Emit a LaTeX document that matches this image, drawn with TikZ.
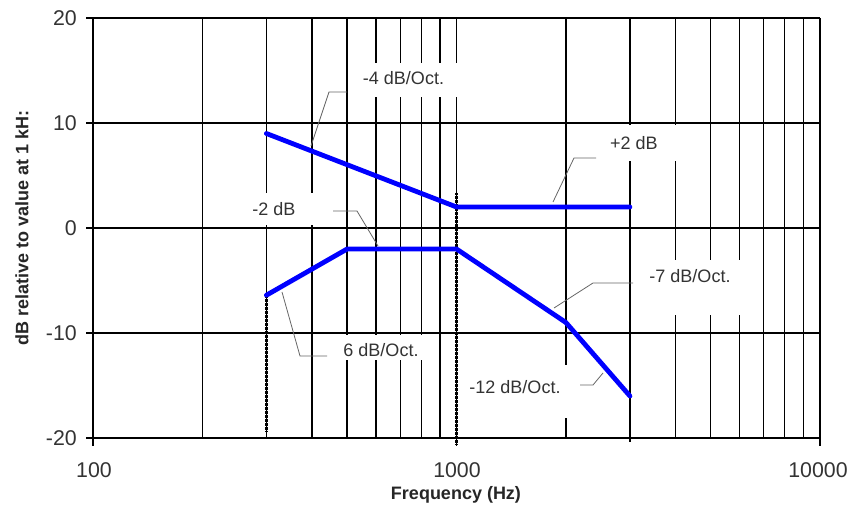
\documentclass[tikz,border=0pt]{standalone}
\usepackage{fontspec}
\setmainfont{Liberation Sans}
\definecolor{txt}{HTML}{333333}
\definecolor{curveblue}{RGB}{0,0,255}
\begin{document}
\begin{tikzpicture}[x=0.75pt,y=-0.75pt,
  grid/.style={line width=1pt,black},
  curve/.style={line width=3.6pt,curveblue,line cap=round,line join=round},
  leader/.style={line width=0.6pt,black!60},
  tol/.style={line width=1.8pt,black,dash pattern=on 0.5pt off 0.5pt},
  mask/.style={fill=white,draw=none},
  lab/.style={inner sep=0pt,text=txt,font=\fontsize{13.5}{16}\selectfont},
  ticklab/.style={inner sep=0pt,text=txt,font=\fontsize{16}{19}\selectfont},
  axlab/.style={inner sep=0pt,text=black!85,font=\bfseries\fontsize{13.5}{16}\selectfont}]
\useasboundingbox (0,0) rectangle (854,513);
% grid
\foreach \x in {93,202.4,266.4,311.9,347.1,375.9,400.2,421.3,439.9,456.5,565.9,629.9,675.4,710.6,739.4,763.7,784.8,803.4,820}
  \draw[grid] (\x,18) -- (\x,438);
\foreach \y in {18,123,228,333,438}
  \draw[grid] (86,\y) -- (820,\y);
\foreach \x in {93,456.5,820}
  \draw[grid] (\x,438) -- (\x,446);
% masks behind labels
\fill[mask] (350,63) rectangle (462,97);
\fill[mask] (238,193) rectangle (328,225);
\fill[mask] (600,125) rectangle (692,161);
\fill[mask] (636,260) rectangle (752,315);
\fill[mask] (330,335) rectangle (432,360);
\fill[mask] (462,365) rectangle (576,418);
% labels
\node[lab] (l4) at (403.5,78) {-4 dB/Oct.};
\node[lab] (l2m) at (274,209) {-2 dB};
\node[lab] (l2p) at (634,143) {+2 dB};
\node[lab] (l7) at (690,276) {-7 dB/Oct.};
\node[lab] (l6) at (381,350) {6 dB/Oct.};
\node[lab] (l12) at (515,387) {-12 dB/Oct.};
% tolerance lines
\coordinate (t1a) at (266.4,296); \coordinate (t1b) at (266.4,432);
\coordinate (t2a) at (456.5,193); \coordinate (t2b) at (456.5,445);
\coordinate (t3a) at (629.9,320); \coordinate (t3b) at (629.9,442);
\draw[tol] (t1a) -- (t1b);
\draw[tol] (t2a) -- (t2b);
\draw[tol] (t3a) -- (t3b);
% leader lines
\coordinate (a4) at (311,146); \coordinate (b4) at (329,92); \coordinate (c4) at (347,92);
\draw[leader] (a4) -- (b4) -- (c4);
\coordinate (a2m) at (333,211); \coordinate (b2m) at (357,211); \coordinate (c2m) at (378,246);
\draw[leader] (a2m) -- (b2m) -- (c2m);
\coordinate (a2p) at (553,202); \coordinate (b2p) at (574,158); \coordinate (c2p) at (596,158);
\draw[leader] (a2p) -- (b2p) -- (c2p);
\coordinate (a7) at (554,308); \coordinate (b7) at (593,283); \coordinate (c7) at (633,283);
\draw[leader] (a7) -- (b7) -- (c7);
\coordinate (a6) at (282,292); \coordinate (b6) at (300,356); \coordinate (c6) at (327,356);
\draw[leader] (a6) -- (b6) -- (c6);
\coordinate (a12) at (580,385); \coordinate (b12) at (593,385); \coordinate (c12) at (603,373);
\draw[leader] (a12) -- (b12) -- (c12);
% curves
\coordinate (u1) at (266.4,133.5); \coordinate (u2) at (456.5,207); \coordinate (u3) at (629.9,207);
\draw[curve] (u1) -- (u2) -- (u3);
\coordinate (d1) at (266.4,295.2); \coordinate (d2) at (347.1,249); \coordinate (d3) at (456.5,249);
\coordinate (d4) at (565.9,322.5); \coordinate (d5) at (629.9,396);
\draw[curve] (d1) -- (d2) -- (d3) -- (d4) -- (d5);
% tick labels
\node[ticklab,anchor=east] (y20) at (77,18) {20};
\node[ticklab,anchor=east] (y10) at (77,123) {10};
\node[ticklab,anchor=east] (y0) at (77,228) {0};
\node[ticklab,anchor=east] (ym10) at (77,333) {-10};
\node[ticklab,anchor=east] (ym20) at (77,438) {-20};
\node[ticklab] (x100) at (94,470) {100};
\node[ticklab] (x1000) at (457,470) {1000};
\node[ticklab] (x10000) at (818,470) {10000};
% axis titles
\node[axlab] (xt) at (456,495) {Frequency (Hz)};
\node[axlab,rotate=90] (yt) at (22,228) {dB relative to value at 1 kH:};
\end{tikzpicture}
\end{document}
